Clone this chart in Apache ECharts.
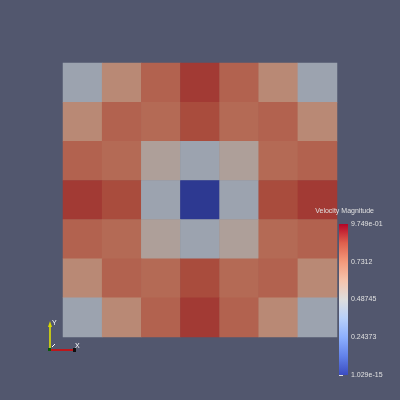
<!DOCTYPE html>
<html>
<head>
<meta charset="utf-8">
<script src="https://cdn.jsdelivr.net/npm/echarts@6/dist/echarts.min.js"></script>
<style>
html,body{margin:0;padding:0;background:#52576e;}
#chart{width:400px;height:400px;}
</style>
</head>
<body>
<div id="chart"></div>
<script>
// ---- data ----
const xCategories = ['0','1','2','3','4','5','6'];
const yCategories = ['0','1','2','3','4','5','6'];
const row0 = [0.439, 0.653, 0.780, 0.877, 0.780, 0.653, 0.439];
const row1 = [0.653, 0.780, 0.760, 0.843, 0.760, 0.780, 0.653];
const row2 = [0.780, 0.760, 0.536, 0.439, 0.536, 0.760, 0.780];
const row3 = [0.877, 0.843, 0.439, 1.029e-15, 0.439, 0.843, 0.877];
const row4 = [0.780, 0.760, 0.536, 0.439, 0.536, 0.760, 0.780];
const row5 = [0.653, 0.780, 0.760, 0.843, 0.760, 0.780, 0.653];
const row6 = [0.439, 0.653, 0.780, 0.877, 0.780, 0.653, 0.439];
const rows = [row0, row1, row2, row3, row4, row5, row6];
const rangeMin = 1.029e-15;
const rangeMax = 0.97496;
const legendTitle = 'Velocity Magnitude';
const legendTickLabels = ['1.029e-15', '0.24373', '0.48745', '0.7312', '9.749e-01'];

// cool-to-warm colormap
const coolWarm = [[59,76,192],[98,130,234],[141,176,254],[184,208,249],[221,221,221],[245,196,173],[244,154,123],[222,96,77],[180,4,38]];
const shade = 0.755;
const rgb = (c, f) => 'rgb(' + c.map(v => Math.round(v * f)).join(',') + ')';
const shadedColors = coolWarm.map(c => rgb(c, shade));
const pureColors = coolWarm.map(c => rgb(c, 1));

const heatData = [];
rows.forEach((r, yi) => r.forEach((v, xi) => heatData.push([xi, yi, v])));

const chart = echarts.init(document.getElementById('chart'), null, {renderer: 'canvas'});
const textColor = '#e0e0e0';
const font = 'Liberation Sans';

const gradStops = pureColors.map((c, i) => ({offset: 1 - i / (pureColors.length - 1), color: c}));

chart.setOption({
  backgroundColor: '#52576e',
  animation: false,
  grid: [
    {left: 63, top: 63, width: 274, height: 274},
    {left: 339, top: 224, width: 9, height: 151}
  ],
  xAxis: [
    {type: 'category', data: xCategories, gridIndex: 0, show: false},
    {type: 'value', gridIndex: 1, show: false, min: 0, max: 1}
  ],
  yAxis: [
    {type: 'category', data: yCategories, gridIndex: 0, show: false, inverse: true},
    {type: 'value', gridIndex: 1, position: 'right', min: rangeMin, max: rangeMax,
     interval: (rangeMax - rangeMin) / 20,
     axisLine: {show: false},
     splitLine: {show: false},
     axisTick: {show: true, length: 4, inside: false, lineStyle: {color: '#e0e0e0', width: 1}},
     axisLabel: {show: true, margin: 3, color: textColor, fontFamily: font, fontSize: 7,
       showMinLabel: true, showMaxLabel: true,
       formatter: function (v, idx) { return idx % 5 === 0 ? legendTickLabels[idx / 5] : ''; }}
    }
  ],
  visualMap: [{
    type: 'continuous', show: false, seriesIndex: 0, dimension: 2,
    min: rangeMin, max: rangeMax, inRange: {color: shadedColors}
  }],
  graphic: [
    {type: 'rect', shape: {x: 339, y: 224, width: 9, height: 151}, z: 1,
     style: {fill: new echarts.graphic.LinearGradient(0, 0, 0, 1, gradStops)}},
    {type: 'text', x: 374, y: 211, z: 100,
     style: {text: legendTitle, fill: textColor, font: '7px "Liberation Sans"', textAlign: 'right', textVerticalAlign: 'middle'}},
    // orientation triad
    {type: 'line', shape: {x1: 50, y1: 350, x2: 50, y2: 326}, style: {stroke: '#e8e800', lineWidth: 1.5}},
    {type: 'polygon', shape: {points: [[48, 327], [52, 327], [50, 321]]}, style: {fill: '#d8d800'}},
    {type: 'line', shape: {x1: 50, y1: 350, x2: 74, y2: 350}, style: {stroke: '#e00000', lineWidth: 1.5}},
    {type: 'rect', shape: {x: 73, y: 348, width: 3, height: 4}, style: {fill: '#111111'}},
    {type: 'rect', shape: {x: 48, y: 348, width: 3, height: 3}, style: {fill: '#0a5a0a'}},
    {type: 'text', x: 52, y: 323, style: {text: 'Y', fill: '#ffffff', font: '7px "Liberation Sans"', textVerticalAlign: 'middle'}},
    {type: 'text', x: 75, y: 346, style: {text: 'X', fill: '#ffffff', font: '7px "Liberation Sans"', textVerticalAlign: 'middle'}},
    {type: 'line', shape: {x1: 52, y1: 347, x2: 55, y2: 344}, style: {stroke: '#ffffff', lineWidth: 1}}
  ],
  series: [
    {type: 'heatmap', xAxisIndex: 0, yAxisIndex: 0, data: heatData,
     itemStyle: {borderWidth: 0}, emphasis: {disabled: true}, progressive: 0}
  ]
});
</script>
</body>
</html>
